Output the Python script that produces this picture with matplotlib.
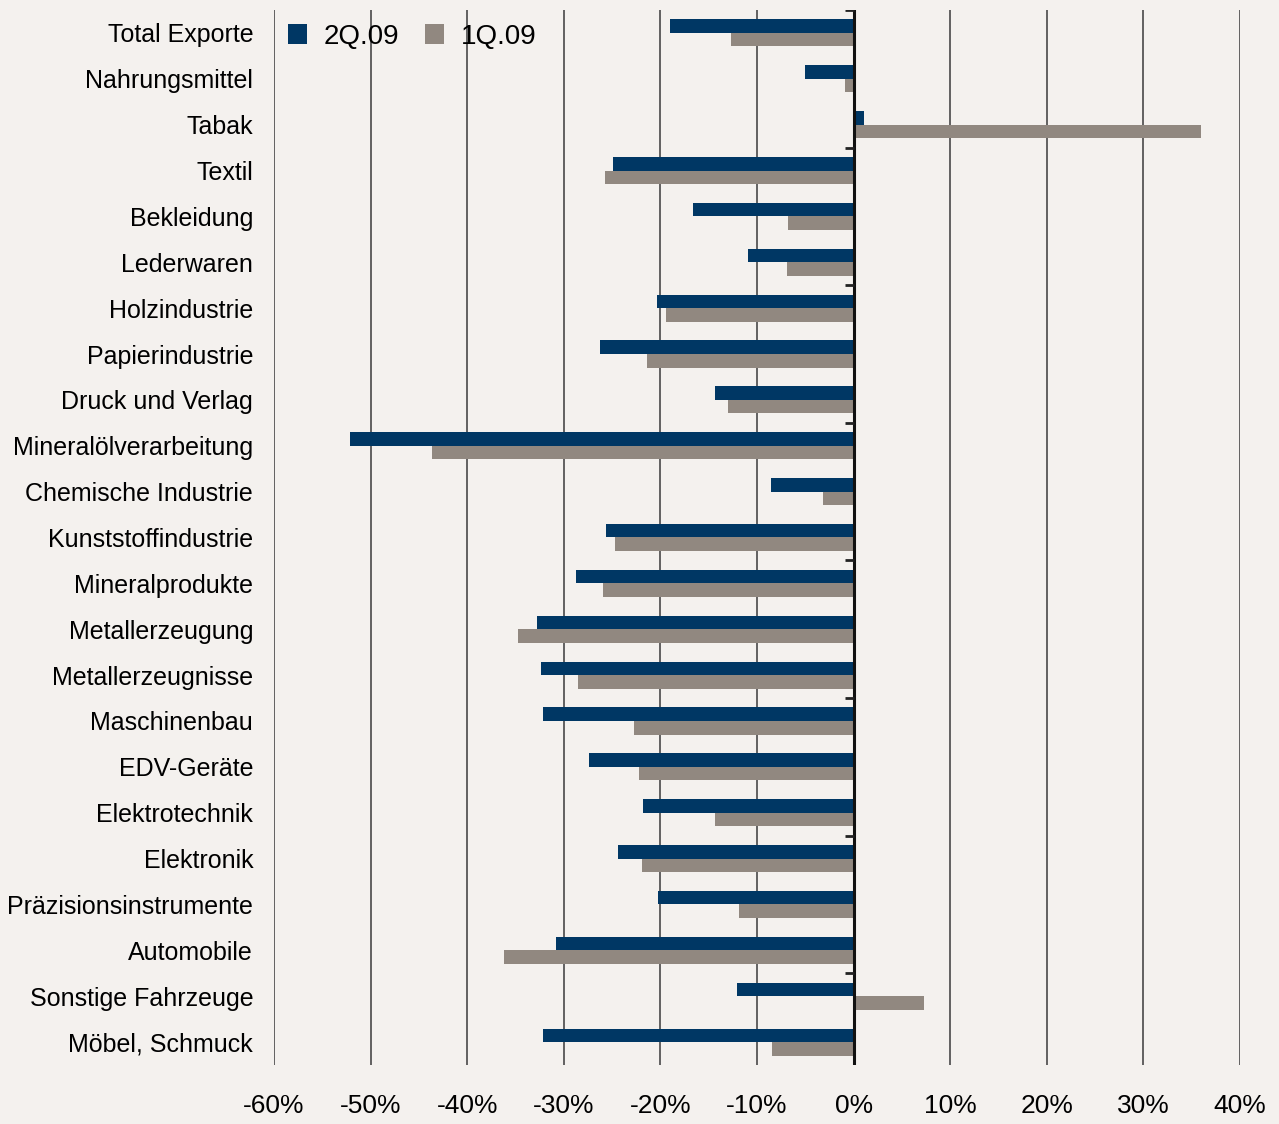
import numpy as np
import matplotlib.pyplot as plt

categories = ['Total Exporte', 'Nahrungsmittel', 'Tabak', 'Textil', 'Bekleidung',
              'Lederwaren', 'Holzindustrie', 'Papierindustrie', 'Druck und Verlag',
              'Mineralölverarbeitung', 'Chemische Industrie', 'Kunststoffindustrie',
              'Mineralprodukte', 'Metallerzeugung', 'Metallerzeugnisse', 'Maschinenbau',
              'EDV-Geräte', 'Elektrotechnik', 'Elektronik', 'Präzisionsinstrumente',
              'Automobile', 'Sonstige Fahrzeuge', 'Möbel, Schmuck']
q2_09 = [-19.0, -5.0, 1.1, -24.9, -16.6, -10.9, -20.3, -26.3, -14.3, -52.1, -8.5,
         -25.6, -28.7, -32.8, -32.4, -32.1, -27.4, -21.8, -24.4, -20.2, -30.8, -12.1, -32.2]
q1_09 = [-12.7, -0.9, 36.0, -25.7, -6.8, -6.9, -19.4, -21.4, -13.0, -43.6, -3.2,
         -24.7, -25.9, -34.7, -28.5, -22.7, -22.2, -14.3, -21.9, -11.9, -36.2, 7.3, -8.4]
xticks = [-60, -50, -40, -30, -20, -10, 0, 10, 20, 30, 40]

bg = '#f4f1ee'
navy = '#003764'
grey = '#918880'

plt.rcParams['font.family'] = ['Liberation Sans', 'DejaVu Sans']

fig = plt.figure(figsize=(12.79, 11.24), dpi=100, facecolor=bg)
ax = fig.add_axes([0.2142, 0.0525, 0.7553, 0.9386], facecolor=bg)

y = np.arange(len(categories))
h = 0.295
ax.barh(y - h / 2, q2_09, height=h, color=navy, label='2Q.09', zorder=3)
ax.barh(y + h / 2, q1_09, height=h, color=grey, label='1Q.09', zorder=3)

ax.set_xlim(-60, 40)
ax.set_ylim(len(categories) - 0.5, -0.5)

# vertical gridlines and the zero line
for xv in xticks:
    if xv != 0:
        ax.axvline(xv, color='#3a3a3a', lw=1.1, zorder=1)
ax.axvline(0, color='#111111', lw=2.2, zorder=4)

# small tick marks on the zero line every three categories
for b in np.arange(0, len(categories), 3) - 0.5:
    ax.hlines(b, -0.9, 0, color='#222222', lw=2, zorder=4)

for s in ax.spines.values():
    s.set_visible(False)

ax.set_yticks(y)
ax.set_yticklabels(categories, fontsize=18)
ax.tick_params(axis='y', length=0, pad=15)
ax.set_xticks(xticks)
ax.set_xticklabels([f'{v}%' for v in xticks], fontsize=19)
ax.tick_params(axis='x', length=0, pad=21)

ax.legend(loc='upper left', ncol=2, frameon=False, fontsize=20,
          handlelength=0.7, handleheight=0.7, columnspacing=0.9,
          handletextpad=0.6, bbox_to_anchor=(0.0, 1.0), borderaxespad=0.1)

fig.savefig('out.png', dpi=100, facecolor=bg)
